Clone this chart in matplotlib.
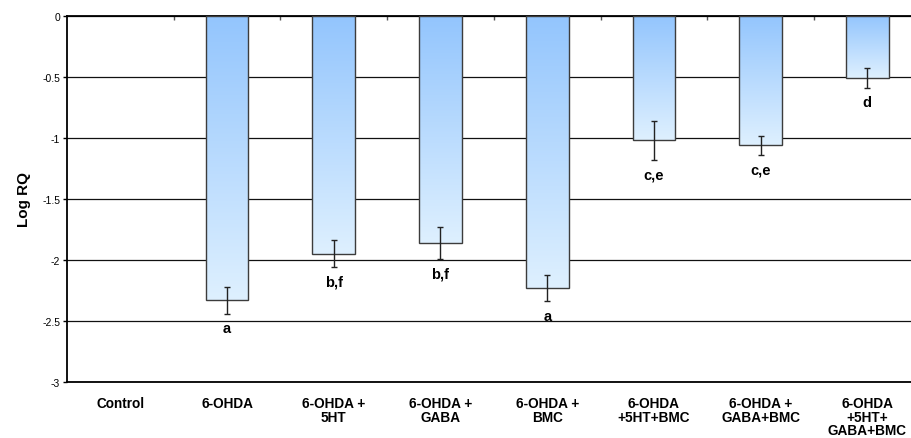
import numpy as np
import matplotlib.pyplot as plt
from matplotlib.colors import LinearSegmentedColormap

plt.rcParams['font.family'] = ['Liberation Sans', 'DejaVu Sans']

# data
groups = ["Control", "6-OHDA", "6-OHDA +\n5HT", "6-OHDA +\nGABA", "6-OHDA +\nBMC",
          "6-OHDA\n+5HT+BMC", "6-OHDA +\nGABA+BMC", "6-OHDA\n+5HT+\nGABA+BMC"]
log_rq = [0.0, -2.33, -1.95, -1.86, -2.23, -1.02, -1.06, -0.51]
sem = [0.0, 0.11, 0.11, 0.13, 0.11, 0.16, 0.08, 0.08]
letters = ["", "a", "b,f", "b,f", "a", "c,e", "c,e", "d"]

fig = plt.figure(figsize=(9.12, 4.39), dpi=100)
ax = fig.add_axes([0.0735, 0.1276, 0.936, 0.8337])

x = np.arange(len(groups))
bars = ax.bar(x, log_rq, width=0.4, facecolor='none', edgecolor='#3c3c3c',
              linewidth=1.0, zorder=3)

# vertical gradient inside each bar: blue at the top, pale at the bottom
cmap = LinearSegmentedColormap.from_list('bluefade', ['#93c5fd', '#def0ff'])
grad = np.linspace(0, 1, 256).reshape(-1, 1)
for b in bars:
    h = b.get_height()
    if h == 0:
        b.set_linewidth(0)
        continue
    x0 = b.get_x()
    w = b.get_width()
    ax.imshow(grad, cmap=cmap, aspect='auto', origin='upper',
              extent=(x0, x0 + w, b.get_y() + h, b.get_y()), zorder=2)

ax.errorbar(x[1:], log_rq[1:], yerr=sem[1:], fmt='none', ecolor='#222222',
            elinewidth=1.0, capsize=2.5, capthick=1.0, zorder=4)

for xi, v, e, lab in zip(x, log_rq, sem, letters):
    if lab:
        ax.text(xi, v - e - 0.15, lab, ha='center', va='baseline',
                fontsize=10.5, fontweight='bold', zorder=5)

ax.set_xlim(-0.5, len(groups) - 0.5)
ax.set_ylim(-3, 0)
ax.set_yticks(np.arange(-3, 0.01, 0.5))
ax.set_yticklabels(['-3', '-2.5', '-2', '-1.5', '-1', '-0.5', '0'])
ax.yaxis.grid(True, color='#111111', linewidth=0.9)
ax.set_axisbelow(True)

ax.set_xticks(x)
ax.set_xticklabels(groups, fontsize=9.8, fontweight='bold', linespacing=0.98)
ax.tick_params(axis='x', which='major', length=0, pad=10)
ax.set_xticks(np.arange(0.5, len(groups) - 0.5, 1.0), minor=True)
ax.tick_params(axis='x', which='minor', top=True, bottom=False, direction='in',
               length=3, width=1, color='#555555')
ax.tick_params(axis='y', labelsize=7.5, length=3, width=1, pad=2)

ax.set_ylabel('Log RQ', fontsize=11, fontweight='bold', labelpad=8)

for s in ax.spines.values():
    s.set_linewidth(1.3)
    s.set_color('black')

fig.savefig('out.png', dpi=100)
